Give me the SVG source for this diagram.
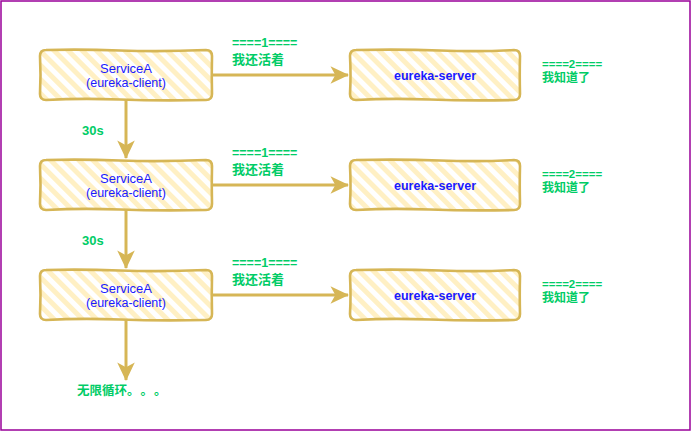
<svg xmlns="http://www.w3.org/2000/svg" width="691" height="431" viewBox="0 0 691 431">
<defs>
<pattern id="hatch" width="10" height="10" patternUnits="userSpaceOnUse" patternTransform="rotate(-45)">
<rect width="10" height="10" fill="#ffffff"/>
<rect width="5" height="10" fill="#fff0c4"/>
</pattern>
<marker id="arr" viewBox="0 0 20 20" refX="18" refY="10" markerWidth="6.5" markerHeight="6.5" markerUnits="strokeWidth" orient="auto">
<path d="M0,1 L19,10 L0,19 L5,10 Z" fill="#d6b656"/>
</marker>
<style>
.box{fill:url(#hatch);stroke:#d6b656;stroke-width:2.6;stroke-linejoin:round}
.t1{font-family:"Liberation Sans",Arial,sans-serif;fill:#1a1aff;text-anchor:middle}
.lab{font-family:"Liberation Sans","Noto Sans CJK SC",sans-serif;fill:#00cc66;font-weight:bold}
.cn{font-family:"Noto Sans CJK SC",sans-serif;fill:#00cc66;font-weight:bold}
.con{stroke:#d6b656;stroke-width:3;fill:none;marker-end:url(#arr)}
</style>
</defs>
<rect x="1" y="1" width="689" height="429" fill="#ffffff" stroke="#990099" stroke-width="1.5"/>
<g id="connectors">
<path class="con" d="M212,75 L348,75"/>
<path class="con" d="M212,185 L348,185"/>
<path class="con" d="M212,295 L348,295"/>
<path class="con" d="M126,100 L126,158"/>
<path class="con" d="M126,210 L126,268"/>
<path class="con" d="M126,320 L126,380"/>
</g>
<g id="clientA1">
<path class="box" d="M46,50 Q80,49 120,50.5 T206,50 Q212,50 212,56 Q211.5,75 212,94 Q212,100 206,100 Q160,101 120,99.5 T46,100 Q40,100 40,94 Q41,75 40,56 Q40,50 46,50 Z"/>
<text class="t1" x="126" y="73" font-size="13">ServiceA</text>
<text class="t1" x="126" y="87" font-size="12.5">(eureka-client)</text>
</g>
<g id="clientA2">
<path class="box" d="M46,160 Q80,159 120,160.5 T206,160 Q212,160 212,166 Q211.5,185 212,204 Q212,210 206,210 Q160,211 120,209.5 T46,210 Q40,210 40,204 Q41,185 40,166 Q40,160 46,160 Z"/>
<text class="t1" x="126" y="183" font-size="13">ServiceA</text>
<text class="t1" x="126" y="197" font-size="12.5">(eureka-client)</text>
</g>
<g id="clientA3">
<path class="box" d="M46,270 Q80,269 120,270.5 T206,270 Q212,270 212,276 Q211.5,295 212,314 Q212,320 206,320 Q160,321 120,319.5 T46,320 Q40,320 40,314 Q41,295 40,276 Q40,270 46,270 Z"/>
<text class="t1" x="126" y="293" font-size="13">ServiceA</text>
<text class="t1" x="126" y="307" font-size="12.5">(eureka-client)</text>
</g>
<g id="server1">
<path class="box" d="M356,50 Q400,49 440,50.5 T514,50 Q520,50 520,56 Q519.5,75 520,94 Q520,100 514,100 Q470,101 430,99.5 T356,100 Q350,100 350,94 Q351,75 350,56 Q350,50 356,50 Z"/>
<text class="t1" x="435" y="80" font-size="12.5" font-weight="bold">eureka-server</text>
</g>
<g id="server2">
<path class="box" d="M356,160 Q400,159 440,160.5 T514,160 Q520,160 520,166 Q519.5,185 520,204 Q520,210 514,210 Q470,211 430,209.5 T356,210 Q350,210 350,204 Q351,185 350,166 Q350,160 356,160 Z"/>
<text class="t1" x="435" y="190" font-size="12.5" font-weight="bold">eureka-server</text>
</g>
<g id="server3">
<path class="box" d="M356,270 Q400,269 440,270.5 T514,270 Q520,270 520,276 Q519.5,295 520,314 Q520,320 514,320 Q470,321 430,319.5 T356,320 Q350,320 350,314 Q351,295 350,276 Q350,270 356,270 Z"/>
<text class="t1" x="435" y="300" font-size="12.5" font-weight="bold">eureka-server</text>
</g>
<g id="labels">
<text class="lab" x="232" y="47" font-size="12.5">====1====</text>
<text class="cn" x="232" y="64" font-size="13">我还活着</text>
<text class="lab" x="232" y="157" font-size="12.5">====1====</text>
<text class="cn" x="232" y="174" font-size="13">我还活着</text>
<text class="lab" x="232" y="267" font-size="12.5">====1====</text>
<text class="cn" x="232" y="284" font-size="13">我还活着</text>
<text class="lab" x="542" y="67.5" font-size="11.5">====2====</text>
<text class="cn" x="542" y="82" font-size="12">我知道了</text>
<text class="lab" x="542" y="177.5" font-size="11.5">====2====</text>
<text class="cn" x="542" y="192" font-size="12">我知道了</text>
<text class="lab" x="542" y="287.5" font-size="11.5">====2====</text>
<text class="cn" x="542" y="302" font-size="12">我知道了</text>
<text class="lab" x="82" y="135" font-size="13">30s</text>
<text class="lab" x="82" y="245" font-size="13">30s</text>
<text class="cn" x="77 89.5 102 114.5 127 140.5 154" y="395" font-size="12.5">无限循环。。。</text>
</g>
</svg>
